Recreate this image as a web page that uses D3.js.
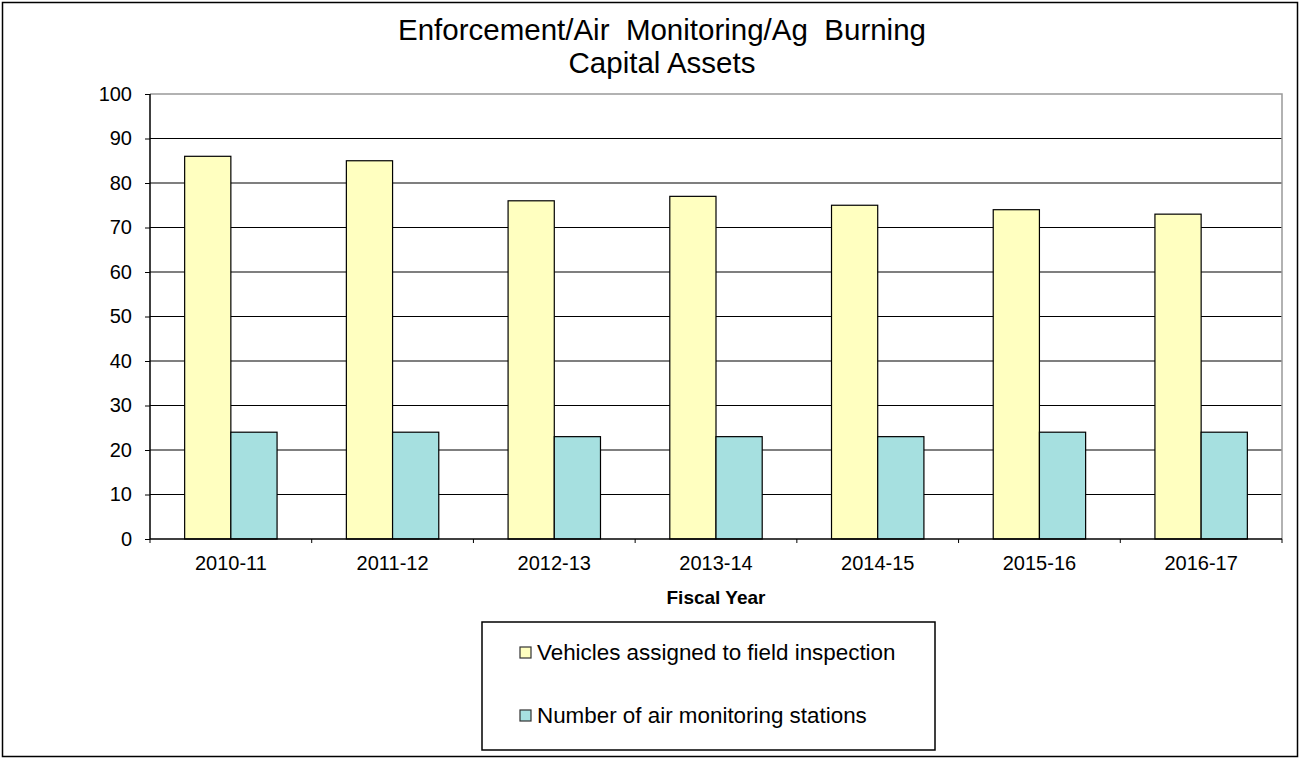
<!DOCTYPE html>
<html><head><meta charset="utf-8">
<script src="https://cdn.jsdelivr.net/npm/d3@7/dist/d3.min.js"></script>
<style>body{margin:0;background:#fff}svg{display:block}text{font-family:"Liberation Sans",Arial,sans-serif;fill:#000}</style>
</head><body><svg id="c" width="1300" height="759"></svg>
<script>
const categories = ["2010-11","2011-12","2012-13","2013-14","2014-15","2015-16","2016-17"];
const vehicles = [86,85,76,77,75,74,73];
const stations = [24,24,23,23,23,24,24];
const seriesNames = ["Vehicles assigned to field inspection","Number of air monitoring stations"];
const yTicks = [0,10,20,30,40,50,60,70,80,90,100];
const colors = ["#ffffc0","#a6e0e0"];

const svg = d3.select("#c");
svg.append("rect").attr("x",2.5).attr("y",2.5).attr("width",1295).attr("height",754)
  .attr("fill","#fff").attr("stroke","#000").attr("stroke-width",1.5);

const L=150,R=1282,T=94,B=539;
const x = d3.scaleBand().domain(categories).range([L,R]).paddingInner(0).paddingOuter(0);
const y = d3.scaleLinear().domain([0,100]).range([B,T]);

svg.append("g").selectAll("line").data(yTicks.filter(d=>d>0&&d<100)).join("line")
  .attr("x1",L).attr("x2",R).attr("y1",d=>y(d)).attr("y2",d=>y(d))
  .attr("stroke","#000").attr("stroke-width",1.2);
svg.append("path").attr("d",`M${L},${y(100)}H${R}V${B}`).attr("fill","none").attr("stroke","#999").attr("stroke-width",1.5);

const bw = x.bandwidth()/3.5;
const g = svg.append("g");
categories.forEach((c,i)=>{
  [vehicles[i],stations[i]].forEach((v,j)=>{
    g.append("rect").attr("x",x(c)+0.75*bw+j*bw).attr("y",y(v))
      .attr("width",bw).attr("height",y(0)-y(v))
      .attr("fill",colors[j]).attr("stroke","#000").attr("stroke-width",1.2);
  });
});

const ya = svg.append("g").attr("transform",`translate(${L},0)`)
  .call(d3.axisLeft(y).tickValues(yTicks).tickSize(5).tickPadding(13));
ya.select(".domain").attr("stroke","#000").attr("stroke-width",1.5).attr("d",`M0,${T}V${B}`);
ya.selectAll("text").style("font-size","20px").style("font-family","Liberation Sans, Arial");
ya.selectAll(".tick line").attr("stroke","#000");

const xa = svg.append("g").attr("transform",`translate(0,${B})`)
  .call(d3.axisBottom(x).tickSize(0));
xa.select(".domain").attr("stroke","#000").attr("stroke-width",1.5).attr("d",`M${L},0H${R}`);
xa.selectAll("text").style("font-size","20px").style("font-family","Liberation Sans, Arial").attr("dy","0").attr("y",31);
svg.append("g").selectAll("line").data(categories.concat(["end"])).join("line")
  .attr("x1",(d,i)=>L+i*x.step()).attr("x2",(d,i)=>L+i*x.step())
  .attr("y1",B).attr("y2",B+4).attr("stroke","#000");

svg.append("text").attr("x",(L+R)/2).attr("y",604).attr("text-anchor","middle")
  .style("font-size","19px").style("font-weight","bold").text("Fiscal Year");

svg.append("text").attr("x",662).attr("y",40).attr("text-anchor","middle").style("font-size","29.5px")
  .attr("xml:space","preserve").text("Enforcement/Air  Monitoring/Ag  Burning");
svg.append("text").attr("x",662).attr("y",73).attr("text-anchor","middle").style("font-size","29.5px").text("Capital Assets");

svg.append("rect").attr("x",482).attr("y",622).attr("width",453).attr("height",128)
  .attr("fill","#fff").attr("stroke","#000").attr("stroke-width",1.5);
seriesNames.forEach((n,i)=>{
  const yy = 652 + i*63;
  svg.append("rect").attr("x",520).attr("y",yy-5).attr("width",11).attr("height",11)
    .attr("fill",colors[i]).attr("stroke","#333").attr("stroke-width",1.2);
  svg.append("text").attr("x",537).attr("y",yy+8).style("font-size","22.4px").text(n);
});
</script></body></html>
